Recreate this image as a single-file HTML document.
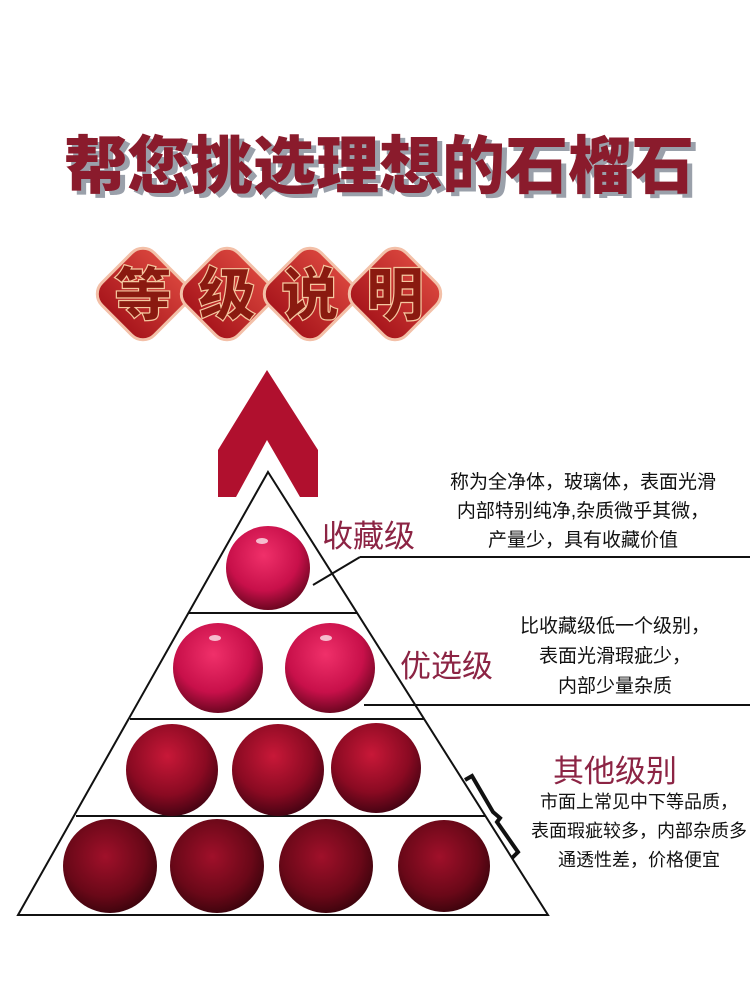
<!DOCTYPE html>
<html><head><meta charset="utf-8"><style>
body{margin:0;background:#fff;}
.t{position:absolute;font-family:"Liberation Sans","Noto Sans CJK SC",sans-serif;white-space:nowrap;}
</style></head><body>
<div style="position:relative;width:750px;height:1000px;overflow:hidden;background:#fff">
<div class="t" style="left:64px;top:116px;font-size:63px;font-weight:900;color:#8a1b2c;letter-spacing:0px;text-shadow:5px 4px 0 #9aa0aa;">帮您挑选理想的石榴石</div>
<svg width="750" height="1000" style="position:absolute;left:0;top:0">
<defs>
<linearGradient id="dg" x1="0" y1="0" x2="0" y2="1"><stop offset="0" stop-color="#d8443c"/><stop offset="1" stop-color="#a8161c"/></linearGradient>
<radialGradient id="s1" cx="0.45" cy="0.35" r="0.7"><stop offset="0" stop-color="#f0306a"/><stop offset="0.6" stop-color="#c8104a"/><stop offset="1" stop-color="#5a0418"/></radialGradient>
<radialGradient id="s2" cx="0.45" cy="0.35" r="0.7"><stop offset="0" stop-color="#c81838"/><stop offset="0.6" stop-color="#8a0a22"/><stop offset="1" stop-color="#3a0210"/></radialGradient>
<radialGradient id="s3" cx="0.45" cy="0.4" r="0.7"><stop offset="0" stop-color="#a0102a"/><stop offset="0.6" stop-color="#6a0818"/><stop offset="1" stop-color="#2a0208"/></radialGradient>
</defs>
<g stroke="#f3c0a8" stroke-width="3" fill="url(#dg)">
<rect x="106" y="257" width="74" height="74" rx="16" transform="rotate(45 143 294)"/>
<rect x="190" y="257" width="74" height="74" rx="16" transform="rotate(45 227 294)"/>
<rect x="273" y="257" width="74" height="74" rx="16" transform="rotate(45 310 294)"/>
<rect x="358" y="257" width="74" height="74" rx="16" transform="rotate(45 395 294)"/>
</g>
<g font-family="Liberation Sans,Noto Sans CJK SC,sans-serif" font-size="58" font-weight="900" fill="#8a1a10" stroke="#f5c8a0" stroke-width="1.2" text-anchor="middle">
<text x="143" y="315">等</text><text x="227" y="315">级</text><text x="310" y="315">说</text><text x="395" y="315">明</text>
</g>
<polygon points="267,370 318,450 318,497 300,497 267,440 236,497 218,497 218,450" fill="#b0102e"/>
<polygon points="268,472 548,915 18,915" fill="#fff" stroke="#111" stroke-width="2"/>
<g stroke="#111" stroke-width="2">
<line x1="188" y1="613" x2="357" y2="613"/>
<line x1="130" y1="719" x2="424" y2="719"/>
<line x1="76" y1="816" x2="486" y2="816"/>
<line x1="360" y1="557" x2="750" y2="557"/>
<line x1="364" y1="705" x2="750" y2="705"/>
<line x1="313" y1="585" x2="360" y2="557"/>
</g>
<circle cx="268" cy="568" r="42" fill="url(#s1)"/>
<circle cx="218" cy="668" r="45" fill="url(#s1)"/>
<circle cx="330" cy="668" r="45" fill="url(#s1)"/>
<circle cx="172" cy="770" r="46" fill="url(#s2)"/>
<circle cx="278" cy="770" r="46" fill="url(#s2)"/>
<circle cx="376" cy="768" r="45" fill="url(#s2)"/>
<circle cx="110" cy="866" r="47" fill="url(#s3)"/>
<circle cx="217" cy="866" r="47" fill="url(#s3)"/>
<circle cx="326" cy="866" r="47" fill="url(#s3)"/>
<circle cx="444" cy="866" r="46" fill="url(#s3)"/>
<g fill="#fff" opacity="0.7"><ellipse cx="262" cy="541" rx="6" ry="3"/><ellipse cx="215" cy="638" rx="6" ry="3"/><ellipse cx="326" cy="638" rx="6" ry="3"/></g>
<polyline points="465,780 472,776 493,812 500,818 497,822 518,852 512,858" fill="none" stroke="#111" stroke-width="4"/>
</svg>
<div class="t" style="left:322px;top:511px;font-size:31px;color:#8c2444">收藏级</div>
<div class="t" style="left:400px;top:641px;font-size:31px;color:#8c2444">优选级</div>
<div class="t" style="left:553px;top:746px;font-size:31px;color:#8c2444">其他级别</div>
<div class="t" style="left:383px;top:468px;width:400px;text-align:center;font-size:19px;line-height:29px;color:#111">称为全净体，玻璃体，表面光滑<br>内部特别纯净,杂质微乎其微，<br>产量少，具有收藏价值</div>
<div class="t" style="left:500px;top:612px;width:230px;text-align:center;font-size:19px;line-height:30px;color:#111">比收藏级低一个级别，<br>表面光滑瑕疵少，<br>内部少量杂质</div>
<div class="t" style="left:514px;top:788px;width:250px;text-align:center;font-size:18px;line-height:29px;color:#111">市面上常见中下等品质，<br>表面瑕疵较多，内部杂质多<br>通透性差，价格便宜</div>
</div>
</body></html>
